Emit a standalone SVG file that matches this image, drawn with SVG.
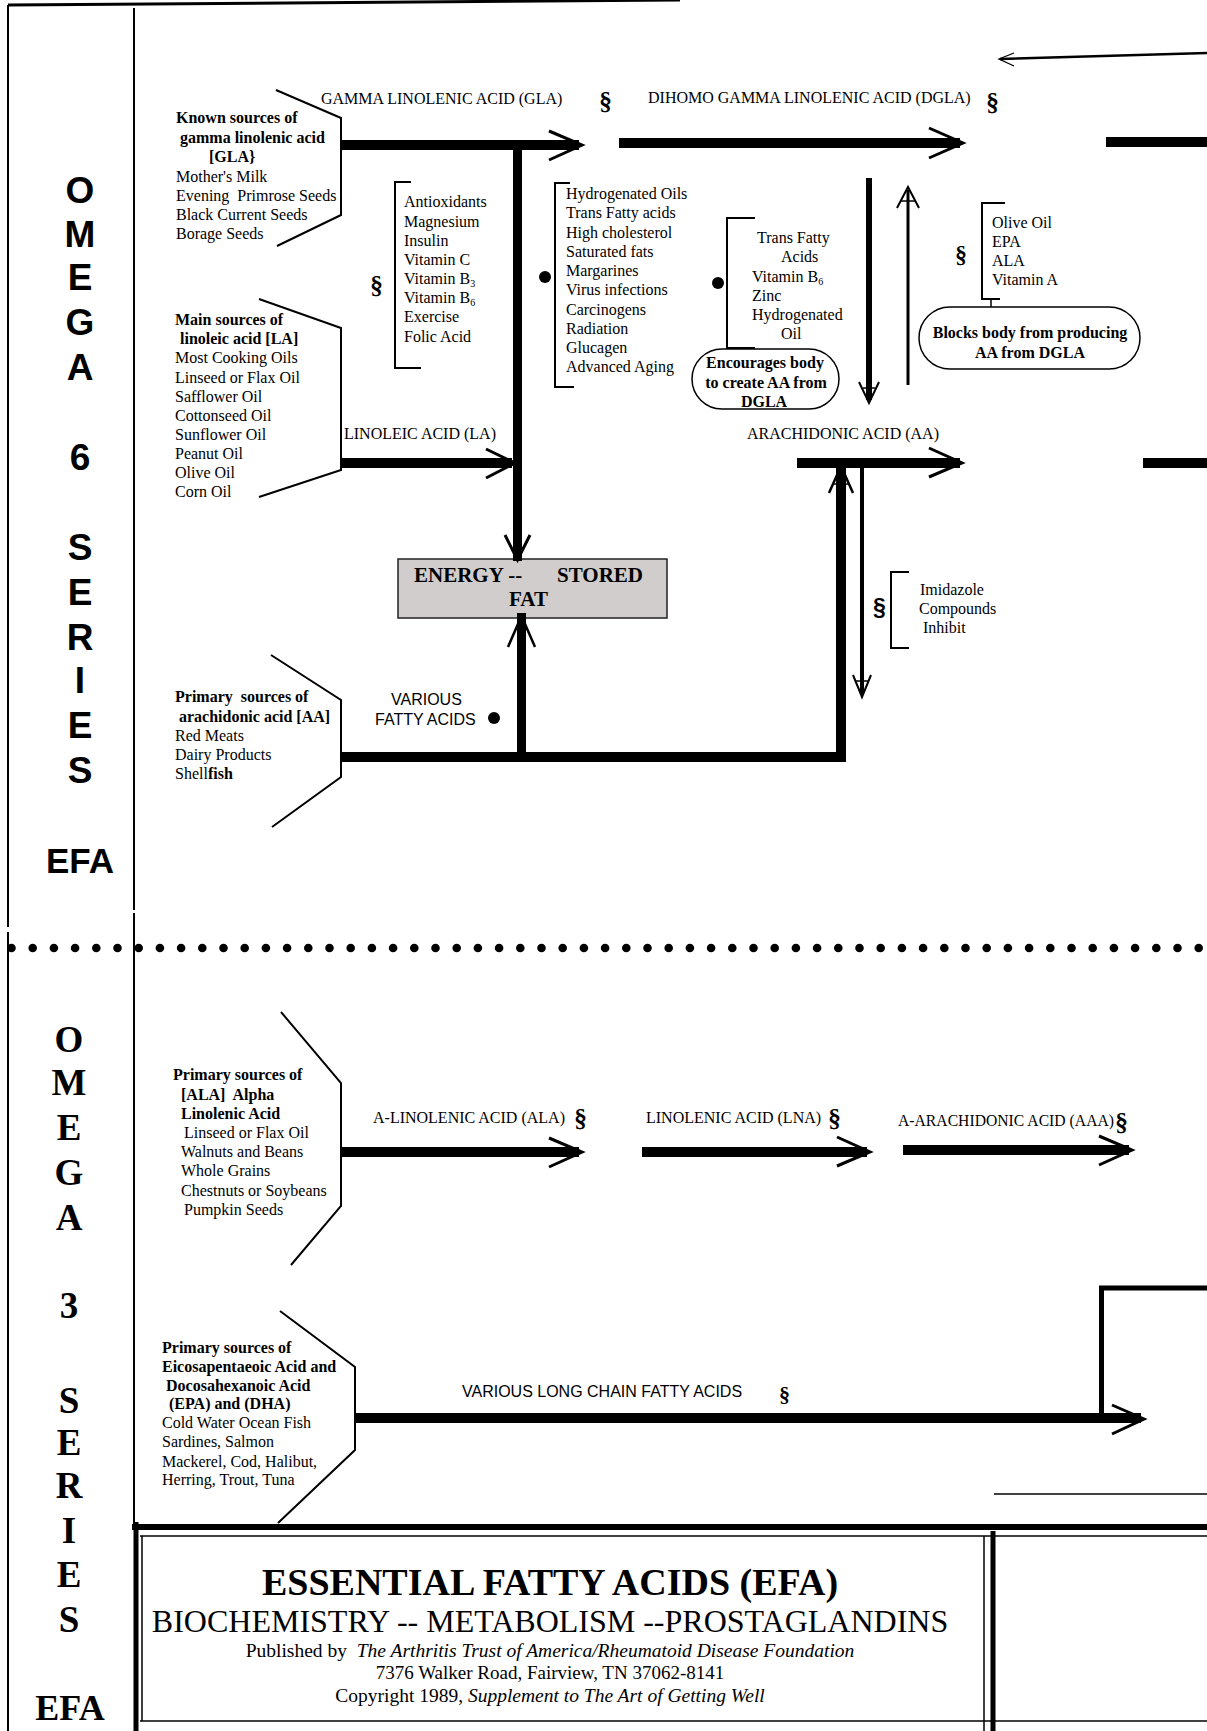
<svg xmlns="http://www.w3.org/2000/svg" width="1207" height="1731" viewBox="0 0 1207 1731">
<style>
  text { font-family: "Liberation Serif", "Times New Roman", serif; font-size: 16px; fill: #000; }
  .b { font-weight: bold; }
  .i { font-style: italic; }
  .sans { font-family: "Liberation Sans", Arial, sans-serif; }
  .col6 { font-family: "Liberation Sans", Arial, sans-serif; font-weight: bold; font-size: 37px; text-anchor: middle; }
  .col3 { font-family: "Liberation Serif", "Times New Roman", serif; font-weight: bold; font-size: 37px; text-anchor: middle; }
  .sec { font-weight: bold; font-size: 26px; }
  .sub { font-size: 10px; }
  .mid { text-anchor: middle; }
  .ln { stroke: #000; fill: none; stroke-width: 2; }
  .thin { stroke: #000; fill: none; stroke-width: 1.5; }
  .shaft { stroke: #000; fill: none; stroke-width: 10; }
  .head { stroke: #000; fill: none; stroke-width: 3; stroke-linejoin: miter; }
  .dot { fill: #000; }
  .pill { fill: #fff; stroke: #000; stroke-width: 1.5; }
</style>

<g id="frame">
  <line class="ln" x1="8" y1="5" x2="680" y2="0" style="stroke-width:3"/>
  <line class="ln" x1="8" y1="5" x2="8" y2="927"/>
  <line class="ln" x1="8" y1="932" x2="8" y2="1731"/>
  <line class="ln" x1="134" y1="8" x2="134" y2="910"/>
  <line class="ln" x1="134" y1="913" x2="134" y2="1524"/>
  <line x1="11.5" y1="948" x2="1207" y2="948" stroke="#000" stroke-width="8.6" stroke-linecap="round" stroke-dasharray="0 21.2"/>
</g>

<g id="omega6-label">
  <text class="col6" x="80" y="203">O</text>
  <text class="col6" x="80" y="247">M</text>
  <text class="col6" x="80" y="290">E</text>
  <text class="col6" x="80" y="335">G</text>
  <text class="col6" x="80" y="380">A</text>
  <text class="col6" x="80" y="470">6</text>
  <text class="col6" x="80" y="560">S</text>
  <text class="col6" x="80" y="605">E</text>
  <text class="col6" x="80" y="650">R</text>
  <text class="col6" x="80" y="693">I</text>
  <text class="col6" x="80" y="738">E</text>
  <text class="col6" x="80" y="783">S</text>
  <text class="col6" x="80" y="873" style="font-size:35px">EFA</text>
</g>

<g id="omega3-label">
  <text class="col3" x="69" y="1052">O</text>
  <text class="col3" x="69" y="1095">M</text>
  <text class="col3" x="69" y="1140">E</text>
  <text class="col3" x="69" y="1185">G</text>
  <text class="col3" x="69" y="1230">A</text>
  <text class="col3" x="69" y="1318">3</text>
  <text class="col3" x="69" y="1413">S</text>
  <text class="col3" x="69" y="1455">E</text>
  <text class="col3" x="69" y="1498">R</text>
  <text class="col3" x="69" y="1543">I</text>
  <text class="col3" x="69" y="1587">E</text>
  <text class="col3" x="69" y="1632">S</text>
  <text class="col3" x="70" y="1720" style="font-size:36px">EFA</text>
</g>

<g id="gla-sources">
  <polyline class="ln" points="276,90 341,118 341,215 277,246"/>
  <text class="b" x="176" y="123">Known sources of</text>
  <text class="b" x="180" y="143">gamma linolenic acid</text>
  <text class="b" x="209" y="162">[GLA}</text>
  <text x="176" y="182">Mother's Milk</text>
  <text x="176" y="201" xml:space="preserve">Evening  Primrose Seeds</text>
  <text x="176" y="220">Black Current Seeds</text>
  <text x="176" y="239">Borage Seeds</text>
</g>

<g id="la-sources">
  <polyline class="ln" points="259,299 341,328 341,470 259,497"/>
  <text class="b" x="175" y="325">Main sources of</text>
  <text class="b" x="180" y="344">linoleic acid [LA]</text>
  <text x="175" y="363">Most Cooking Oils</text>
  <text x="175" y="383">Linseed or Flax Oil</text>
  <text x="175" y="402">Safflower Oil</text>
  <text x="175" y="421">Cottonseed Oil</text>
  <text x="175" y="440">Sunflower Oil</text>
  <text x="175" y="459">Peanut Oil</text>
  <text x="175" y="478">Olive Oil</text>
  <text x="175" y="497">Corn Oil</text>
</g>

<g id="aa-sources">
  <polyline class="ln" points="271,655 341,700 341,777 272,827"/>
  <text class="b" x="175" y="702" xml:space="preserve">Primary  sources of</text>
  <text class="b" x="179" y="722">arachidonic acid [AA]</text>
  <text x="175" y="741">Red Meats</text>
  <text x="175" y="760">Dairy Products</text>
  <text x="175" y="779">Shell<tspan class="b">fish</tspan></text>
</g>

<g id="gla">
  <text x="321" y="104">GAMMA LINOLENIC ACID (GLA)</text>
  <text class="sec" x="599" y="110">§</text>
</g>

<g id="dgla">
  <text x="648" y="103">DIHOMO GAMMA LINOLENIC ACID (DGLA)</text>
  <text class="sec" x="986" y="111">§</text>
</g>

<g id="la">
  <text x="344" y="439">LINOLEIC ACID (LA)</text>
</g>

<g id="aa">
  <text x="747" y="439">ARACHIDONIC ACID (AA)</text>
</g>

<g id="promoters">
  <path class="ln" d="M411,182 H395 V368 H421"/>
  <text class="sec" x="370" y="294">§</text>
  <text x="404" y="207">Antioxidants</text>
  <text x="404" y="227">Magnesium</text>
  <text x="404" y="246">Insulin</text>
  <text x="404" y="265">Vitamin C</text>
  <text x="404" y="284">Vitamin B<tspan class="sub" dy="3">3</tspan></text>
  <text x="404" y="303">Vitamin B<tspan class="sub" dy="3">6</tspan></text>
  <text x="404" y="322">Exercise</text>
  <text x="404" y="342">Folic Acid</text>
</g>

<g id="inhibitors">
  <path class="ln" d="M570,183 H555 V387 H574"/>
  <circle class="dot" cx="545" cy="277" r="6"/>
  <text x="566" y="199">Hydrogenated Oils</text>
  <text x="566" y="218">Trans Fatty acids</text>
  <text x="566" y="238">High cholesterol</text>
  <text x="566" y="257">Saturated fats</text>
  <text x="566" y="276">Margarines</text>
  <text x="566" y="295">Virus infections</text>
  <text x="566" y="315">Carcinogens</text>
  <text x="566" y="334">Radiation</text>
  <text x="566" y="353">Glucagen</text>
  <text x="566" y="372">Advanced Aging</text>
</g>

<g id="encourage-factors">
  <path class="ln" d="M755,218 H727 V348 H755"/>
  <circle class="dot" cx="718" cy="283" r="6"/>
  <text x="757" y="243">Trans Fatty</text>
  <text x="781" y="262">Acids</text>
  <text x="752" y="282">Vitamin B<tspan class="sub" dy="3">6</tspan></text>
  <text x="752" y="301">Zinc</text>
  <text x="752" y="320">Hydrogenated</text>
  <text x="781" y="339">Oil</text>
</g>

<g id="encourages">
  <rect class="pill" x="692" y="349" width="147" height="60" rx="30" ry="30"/>
  <text class="b mid" x="765" y="368">Encourages body</text>
  <text class="b mid" x="766" y="388">to create AA from</text>
  <text class="b mid" x="764" y="407">DGLA</text>
</g>

<g id="block-factors">
  <path class="ln" d="M1005,203 H982 V299 H1000"/>
  <line class="thin" x1="991" y1="299" x2="991" y2="307"/>
  <text class="sec" x="955" y="262" style="font-size:24px">§</text>
  <text x="992" y="228">Olive Oil</text>
  <text x="992" y="247">EPA</text>
  <text x="992" y="266">ALA</text>
  <text x="992" y="285">Vitamin A</text>
</g>

<g id="blocks">
  <rect class="pill" x="919" y="307" width="221" height="62" rx="31" ry="31"/>
  <text class="b mid" x="1030" y="338">Blocks body from producing</text>
  <text class="b mid" x="1030" y="358">AA from DGLA</text>
</g>

<g id="imidazole">
  <path class="ln" d="M909,572 H891 V648 H909"/>
  <text class="sans b" x="873" y="615" style="font-size:23px">§</text>
  <text x="920" y="595">Imidazole</text>
  <text x="919" y="614">Compounds</text>
  <text x="923" y="633">Inhibit</text>
</g>

<g id="energy">
  <rect x="398" y="559" width="269" height="59" fill="#d0cdcc" stroke="#222" stroke-width="1.5"/>
  <text class="b" x="414" y="582" style="font-size:21px">ENERGY --</text>
  <text class="b" x="557" y="582" style="font-size:21px">STORED</text>
  <text class="b" x="509" y="606" style="font-size:21px">FAT</text>
</g>

<g id="various">
  <text class="sans" x="391" y="705">VARIOUS</text>
  <text class="sans" x="375" y="725">FATTY ACIDS</text>
  <circle class="dot" cx="494" cy="718" r="6"/>
</g>

<g id="ala-sources">
  <polyline class="ln" points="281,1012 341,1083 341,1206 291,1265"/>
  <text class="b" x="173" y="1080">Primary sources of</text>
  <text class="b" x="181" y="1100" xml:space="preserve">[ALA]  Alpha</text>
  <text class="b" x="181" y="1119">Linolenic Acid</text>
  <text x="184" y="1138">Linseed or Flax Oil</text>
  <text x="181" y="1157">Walnuts and Beans</text>
  <text x="181" y="1176">Whole Grains</text>
  <text x="181" y="1196">Chestnuts or Soybeans</text>
  <text x="184" y="1215">Pumpkin Seeds</text>
</g>

<g id="ala">
  <text x="373" y="1123">A-LINOLENIC ACID (ALA)</text>
  <text class="sec" x="574" y="1127">§</text>
</g>

<g id="lna">
  <text x="646" y="1123">LINOLENIC ACID (LNA)</text>
  <text class="sec" x="828" y="1127">§</text>
</g>

<g id="aaa">
  <text x="898" y="1126" textLength="216" lengthAdjust="spacingAndGlyphs">A-ARACHIDONIC ACID (AAA)</text>
  <text class="sec" x="1115" y="1131">§</text>
</g>

<g id="epa-sources">
  <polyline class="ln" points="280,1311 355,1367 355,1450 278,1523"/>
  <text class="b" x="162" y="1353">Primary sources of</text>
  <text class="b" x="162" y="1372">Eicosapentaeoic Acid and</text>
  <text class="b" x="166" y="1391">Docosahexanoic Acid</text>
  <text class="b" x="169" y="1409">(EPA) and (DHA)</text>
  <text x="162" y="1428">Cold Water Ocean Fish</text>
  <text x="162" y="1447">Sardines, Salmon</text>
  <text x="162" y="1467">Mackerel, Cod, Halibut,</text>
  <text x="162" y="1485">Herring, Trout, Tuna</text>
</g>

<g id="long-chain">
  <text class="sans" x="462" y="1397">VARIOUS LONG CHAIN FATTY ACIDS</text>
  <text class="b" x="779" y="1402" style="font-size:22px">§</text>
</g>

<g id="title">
  <line class="ln" x1="132" y1="1527" x2="1207" y2="1527" style="stroke-width:6"/>
  <line class="thin" x1="140" y1="1536" x2="1207" y2="1536"/>
  <line class="ln" x1="136" y1="1522" x2="136" y2="1731" style="stroke-width:5"/>
  <line class="thin" x1="142" y1="1536" x2="142" y2="1721"/>
  <line class="thin" x1="984" y1="1536" x2="984" y2="1731"/>
  <line class="ln" x1="993" y1="1531" x2="993" y2="1731" style="stroke-width:5"/>
  <line class="thin" x1="140" y1="1721" x2="1207" y2="1721"/>
  <text class="b mid" x="550" y="1595" style="font-size:38px">ESSENTIAL FATTY ACIDS (EFA)</text>
  <text class="mid" x="550" y="1632" style="font-size:32px">BIOCHEMISTRY -- METABOLISM --PROSTAGLANDINS</text>
  <text class="mid" x="550" y="1657" style="font-size:19.5px" xml:space="preserve">Published by  <tspan class="i">The Arthritis Trust of America/Rheumatoid Disease Foundation</tspan></text>
  <text class="mid" x="550" y="1679" style="font-size:19px">7376 Walker Road, Fairview, TN 37062-8141</text>
  <text class="mid" x="550" y="1702" style="font-size:19.5px">Copyright 1989, <tspan class="i">Supplement to The Art of Getting Well</tspan></text>
</g>

<g id="connectors">
  <!-- GLA -> DGLA -->
  <line class="shaft" x1="341" y1="145" x2="579" y2="145"/>
  <polyline class="head" points="549,131 582,145 549,160"/>
  <!-- GLA/LA down to energy -->
  <line class="shaft" x1="517.5" y1="140" x2="517.5" y2="561" style="stroke-width:9"/>
  <polyline class="head" points="505,535 517.5,560 530,535"/>
  <!-- LA arrow -->
  <line class="shaft" x1="341" y1="463" x2="512" y2="463"/>
  <polyline class="head" points="486,449 515,463 486,478"/>
  <!-- DGLA arrow -->
  <line class="shaft" x1="619" y1="143" x2="960" y2="143"/>
  <polyline class="head" points="929,128 963,143 929,158"/>
  <line class="shaft" x1="1106" y1="142" x2="1207" y2="142"/>
  <!-- return arrow top right -->
  <line class="ln" x1="1207" y1="53" x2="1000" y2="59" style="stroke-width:2.5"/>
  <polyline class="thin" points="1014,53 999,59 1014,66" style="stroke-width:1.3"/>
  <!-- DGLA -> AA down -->
  <line class="shaft" x1="869" y1="178" x2="869" y2="400" style="stroke-width:6"/>
  <polyline class="head" points="859,382 869,403 879,382" style="stroke-width:2"/>
  <line class="thin" x1="863" y1="388" x2="875" y2="388"/>
  <!-- AA -> DGLA up -->
  <line class="shaft" x1="908" y1="385" x2="908" y2="190" style="stroke-width:3"/>
  <polyline class="head" points="897,208 908,187 919,208" style="stroke-width:2"/>
  <line class="thin" x1="901" y1="201" x2="915" y2="201"/>
  <!-- AA arrow -->
  <line class="shaft" x1="797" y1="463" x2="960" y2="463"/>
  <polyline class="head" points="929,448 962,463 929,477"/>
  <line class="shaft" x1="1143" y1="463" x2="1207" y2="463"/>
  <!-- AA sources path to AA -->
  <polyline class="shaft" points="341,757 841,757 841,466"/>
  <polyline class="head" points="829,493 841,466 853,493" style="stroke-width:2.5"/>
  <line class="thin" x1="833" y1="484" x2="849" y2="484"/>
  <!-- various fatty acids up to energy -->
  <line class="shaft" x1="521.5" y1="757" x2="521.5" y2="613" style="stroke-width:9"/>
  <polyline class="head" points="508,647 521.5,616 535,647" style="stroke-width:2.5"/>
  <!-- AA down, imidazole inhibit -->
  <line class="shaft" x1="862" y1="468" x2="862" y2="694" style="stroke-width:4"/>
  <polyline class="head" points="853,675 862,697 871,675" style="stroke-width:2"/>
  <line class="thin" x1="856" y1="681" x2="868" y2="681"/>
  <!-- omega 3 chain -->
  <line class="shaft" x1="341" y1="1152" x2="579" y2="1152"/>
  <polyline class="head" points="549,1138 582,1152 549,1167"/>
  <line class="shaft" x1="642" y1="1152" x2="867" y2="1152"/>
  <polyline class="head" points="837,1137 870,1152 837,1166"/>
  <line class="shaft" x1="903" y1="1150" x2="1129" y2="1150"/>
  <polyline class="head" points="1099,1136 1132,1150 1099,1165"/>
  <!-- long chain -->
  <line class="shaft" x1="355" y1="1418" x2="1141" y2="1418"/>
  <polyline class="head" points="1112,1405 1144,1419 1112,1434"/>
  <polyline class="shaft" points="1101.5,1418 1101.5,1288 1207,1288" style="stroke-width:5"/>
  <line class="thin" x1="994" y1="1494" x2="1207" y2="1494"/>
</g>
</svg>
